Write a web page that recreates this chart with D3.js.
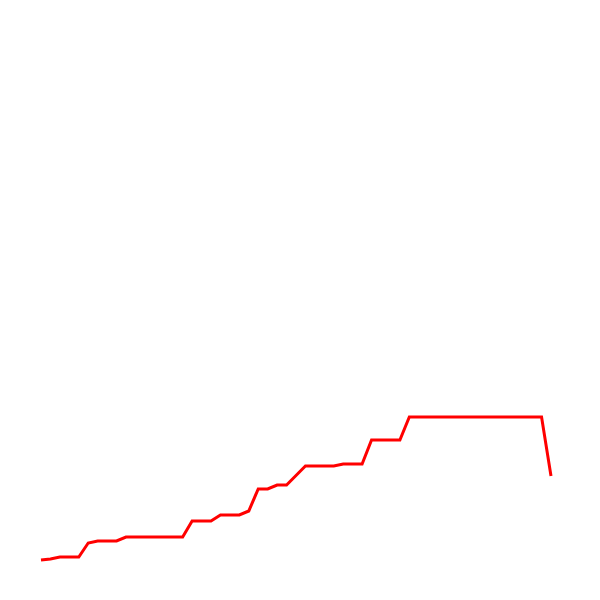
<!DOCTYPE html>
<html>
<head>
<meta charset="utf-8">
<script src="https://cdn.jsdelivr.net/npm/d3@7"></script>
<style>
  html, body { margin: 0; padding: 0; background: #ffffff; }
  svg { display: block; }
</style>
</head>
<body>
<svg id="chart" width="600" height="600"></svg>
<script>
// Index positions (equally spaced samples)
const indices = d3.range(55);

// Series values (arbitrary units, baseline 0)
const values = [
  0, 1, 3, 3, 3, 17, 19, 19, 19, 23,
  23, 23, 23, 23, 23, 23, 39, 39, 39, 45,
  45, 45, 49, 71, 71, 75, 75, 84.5, 94, 94,
  94, 94, 96, 96, 96, 120, 120, 120, 120, 143,
  143, 143, 143, 143, 143, 143, 143, 143, 143, 143,
  143, 143, 143, 143, 84
];

const svg = d3.select("#chart");

const x = d3.scaleLinear()
  .domain([0, 54])
  .range([41, 551]);

const y = d3.scaleLinear()
  .domain([0, 520])
  .range([560, 40]);

const line = d3.line()
  .x((d, i) => x(indices[i]))
  .y(d => y(d));

svg.append("path")
  .datum(values)
  .attr("fill", "none")
  .attr("stroke", "#ff0000")
  .attr("stroke-width", 3)
  .attr("stroke-linejoin", "miter")
  .attr("d", line);
</script>
</body>
</html>
